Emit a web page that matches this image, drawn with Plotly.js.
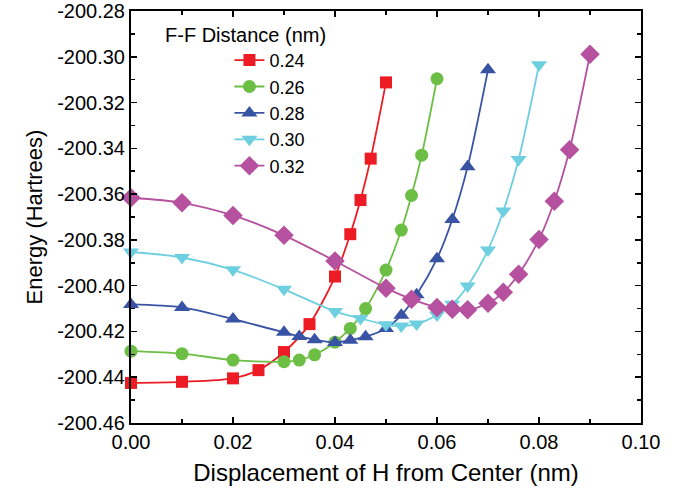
<!DOCTYPE html>
<html>
<head>
<meta charset="utf-8">
<script src="https://cdn.plot.ly/plotly-3.0.1.min.js"></script>
<style>html,body{margin:0;padding:0;background:#fff;}#chart{width:679px;height:493px;}</style>
</head>
<body>
<div id="chart"></div>
<script>
const seriesNames = ["0.24", "0.26", "0.28", "0.30", "0.32"];
const legendTitle = "F-F Distance (nm)";

const x024 = [0, 0.01, 0.02, 0.025, 0.03, 0.035, 0.04, 0.043, 0.045, 0.047, 0.05];
const e024 = [-200.4425, -200.4420, -200.4405, -200.4369, -200.4290, -200.4168, -200.3960, -200.3775, -200.3626, -200.3445, -200.3112];

const x026 = [0, 0.01, 0.02, 0.03, 0.033, 0.036, 0.04, 0.043, 0.046, 0.05, 0.053, 0.055, 0.057, 0.06];
const e026 = [-200.4286, -200.4297, -200.4325, -200.4332, -200.4325, -200.4302, -200.4247, -200.4187, -200.4100, -200.3932, -200.3757, -200.3606, -200.3430, -200.3096];

const x028 = [0, 0.01, 0.02, 0.03, 0.033, 0.036, 0.04, 0.043, 0.046, 0.05, 0.053, 0.056, 0.06, 0.063, 0.066, 0.07];
const e028 = [-200.4082, -200.4095, -200.4146, -200.4204, -200.4222, -200.4236, -200.4248, -200.4238, -200.4223, -200.4187, -200.4129, -200.4040, -200.3882, -200.3711, -200.3481, -200.3057];

const x030 = [0, 0.01, 0.02, 0.03, 0.04, 0.045, 0.05, 0.053, 0.056, 0.06, 0.063, 0.066, 0.07, 0.073, 0.076, 0.08];
const e030 = [-200.3853, -200.3877, -200.3931, -200.4016, -200.4113, -200.4143, -200.4171, -200.4176, -200.4168, -200.4128, -200.4081, -200.4001, -200.3844, -200.3674, -200.3449, -200.3035];

const x032 = [0, 0.01, 0.02, 0.03, 0.04, 0.05, 0.055, 0.06, 0.063, 0.066, 0.07, 0.073, 0.076, 0.08, 0.083, 0.086, 0.09];
const e032 = [-200.3616, -200.3638, -200.3693, -200.3780, -200.3892, -200.4011, -200.4059, -200.4095, -200.4103, -200.4105, -200.4077, -200.4029, -200.3950, -200.3798, -200.3631, -200.3406, -200.2989];

const xTickVals = [0, 0.02, 0.04, 0.06, 0.08, 0.10];
const xTickText = ["0.00", "0.02", "0.04", "0.06", "0.08", "0.10"];
const yTickVals = [-200.46, -200.44, -200.42, -200.40, -200.38, -200.36, -200.34, -200.32, -200.30, -200.28];
const yTickText = ["-200.46", "-200.44", "-200.42", "-200.40", "-200.38", "-200.36", "-200.34", "-200.32", "-200.30", "-200.28"];

const xs = [x024, x026, x028, x030, x032];
const es = [e024, e026, e028, e030, e032];
const colors = ["#ED1C24", "#6DBE45", "#3953A4", "#6DCFDF", "#B5519E"];
const symbols = ["square", "circle", "triangle-up", "triangle-down", "diamond"];
const sizes = [12, 13, 14, 14, 15];

const traces = seriesNames.map((n, i) => ({
  x: xs[i], y: es[i], name: n, type: "scatter", mode: "lines+markers",
  line: {color: colors[i], width: 1.8, shape: "spline", smoothing: 0.8},
  marker: {color: colors[i], symbol: symbols[i], size: sizes[i]},
  cliponaxis: false
}));

const font = "Arial, 'Liberation Sans', sans-serif";
const layout = {
  width: 679, height: 493,
  margin: {l: 131, r: 38, t: 11, b: 70},
  paper_bgcolor: "#fff", plot_bgcolor: "#fff",
  font: {family: font, color: "#000"},
  showlegend: true,
  legend: {
    x: 0.193, y: 0.925, xanchor: "left", yanchor: "top",
    bgcolor: "rgba(0,0,0,0)",
    font: {size: 18, family: font},
    tracegroupgap: 0
  },
  annotations: [{
    text: legendTitle, xref: "paper", yref: "paper",
    x: 0.063, y: 0.942, xanchor: "left", yanchor: "middle",
    showarrow: false, font: {size: 20, family: font}
  }],
  xaxis: {
    range: [0, 0.1], tickvals: xTickVals, ticktext: xTickText,
    ticks: "inside", ticklen: 6, tickwidth: 1.5, tickcolor: "#000",
    minor: {dtick: 0.01, ticks: "inside", ticklen: 4, tickwidth: 1.5, tickcolor: "#000"},
    showline: true, linecolor: "#000", linewidth: 2, mirror: "allticks",
    showgrid: false, zeroline: false,
    tickfont: {size: 20, family: font},
    title: {text: "Displacement of H from Center (nm)", font: {size: 24, family: font}, standoff: 12}
  },
  yaxis: {
    range: [-200.46, -200.28], tickvals: yTickVals, ticktext: yTickText,
    ticks: "inside", ticklen: 6, tickwidth: 1.5, tickcolor: "#000",
    minor: {dtick: 0.01, ticks: "inside", ticklen: 4, tickwidth: 1.5, tickcolor: "#000"},
    showline: true, linecolor: "#000", linewidth: 2, mirror: "allticks",
    showgrid: false, zeroline: false,
    tickfont: {size: 20, family: font},
    title: {text: "Energy (Hartrees)", font: {size: 22, family: font}, standoff: 8}
  }
};

Plotly.newPlot("chart", traces, layout, {displayModeBar: false, staticPlot: true});
</script>
</body>
</html>
